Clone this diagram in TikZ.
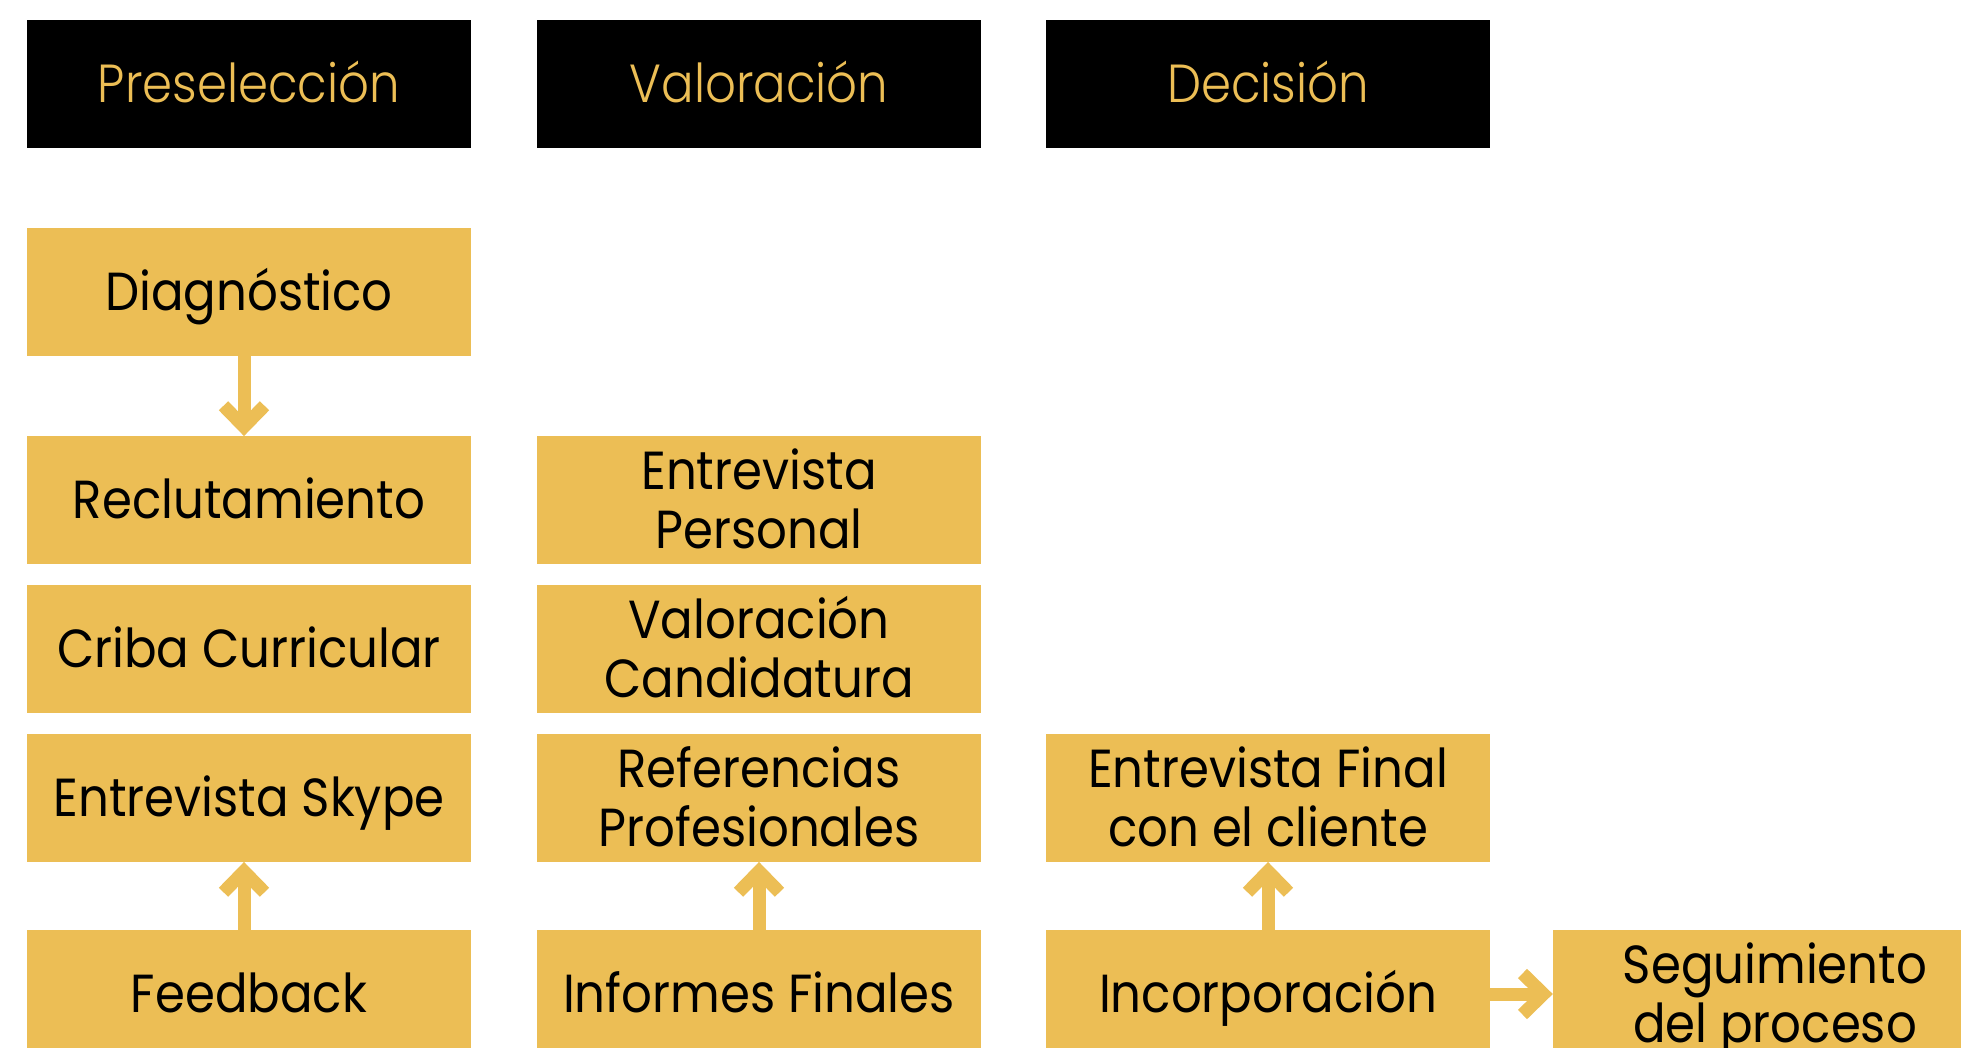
\documentclass[tikz,border=0pt]{standalone}
\usepackage{fontspec}
\setmainfont{Poppins}[FakeStretch=0.90]
\IfFontExistsTF{Poppins Light}
  {\newfontfamily\hdrfont{Poppins Light}[FakeStretch=0.90]}
  {\newfontfamily\hdrfont{Poppins}[FakeStretch=0.90]}
\usetikzlibrary{arrows.meta}
\definecolor{gold}{RGB}{236,190,85}
\begin{document}
\begin{tikzpicture}[x=1pt,y=-1pt,
  box/.style={rectangle, fill=gold, minimum width=444pt, minimum height=127.5pt,
    inner sep=0pt, text=black, font=\fontsize{53.6}{59}\selectfont, align=center,
    text height=37.5pt, text depth=0pt},
  two/.style={text height=96.5pt, text depth=0pt},
  hdr/.style={box, fill=black, text=gold, font=\hdrfont\fontsize{53.6}{59}\selectfont},
  arr/.style={draw=gold, line width=13pt, -{Straight Barb[length=21pt 0 0, width=41pt 0 0]}}]
\useasboundingbox (0,0) rectangle (1961,1047);
\clip (0,0) rectangle (1961,1047);
% headers
\node[hdr] (h1) at (249,84) {Preselección};
\node[hdr] (h2) at (759,84) {Valoración};
\node[hdr] (h3) at (1268,84) {Decisión};
% column 1
\node[box] (diag) at (249,292) {Diagnóstico};
\node[box] (recl) at (249,500) {Reclutamiento};
\node[box] (criba) at (249,649) {Criba Curricular};
\node[box] (skype) at (249,798) {Entrevista Skype};
\node[box] (feed) at (249,994) {Feedback};
% column 2
\node[box,two] (entp) at (759,500) {Entrevista\\Personal};
\node[box,two] (valc) at (759,649) {Valoración\\Candidatura};
\node[box,two] (refp) at (759,798) {Referencias\\Profesionales};
\node[box] (inf) at (759,994) {Informes Finales};
% column 3
\node[box,two] (efin) at (1268,798) {Entrevista Final\\con el cliente};
\node[box] (inc) at (1268,994) {Incorporación};
% column 4
\node[box,two] (seg) at (1775,994) {Seguimiento\\del proceso};
% connectors
\draw[arr] ([xshift=-5pt]diag.south) -- ([xshift=-5pt]recl.north);
\draw[arr] ([xshift=-5pt]feed.north) -- ([xshift=-5pt]skype.south);
\draw[arr] (inf.north) -- (refp.south);
\draw[arr] (inc.north) -- (efin.south);
\draw[arr] (inc.east) -- (seg.west);
\end{tikzpicture}
\end{document}
